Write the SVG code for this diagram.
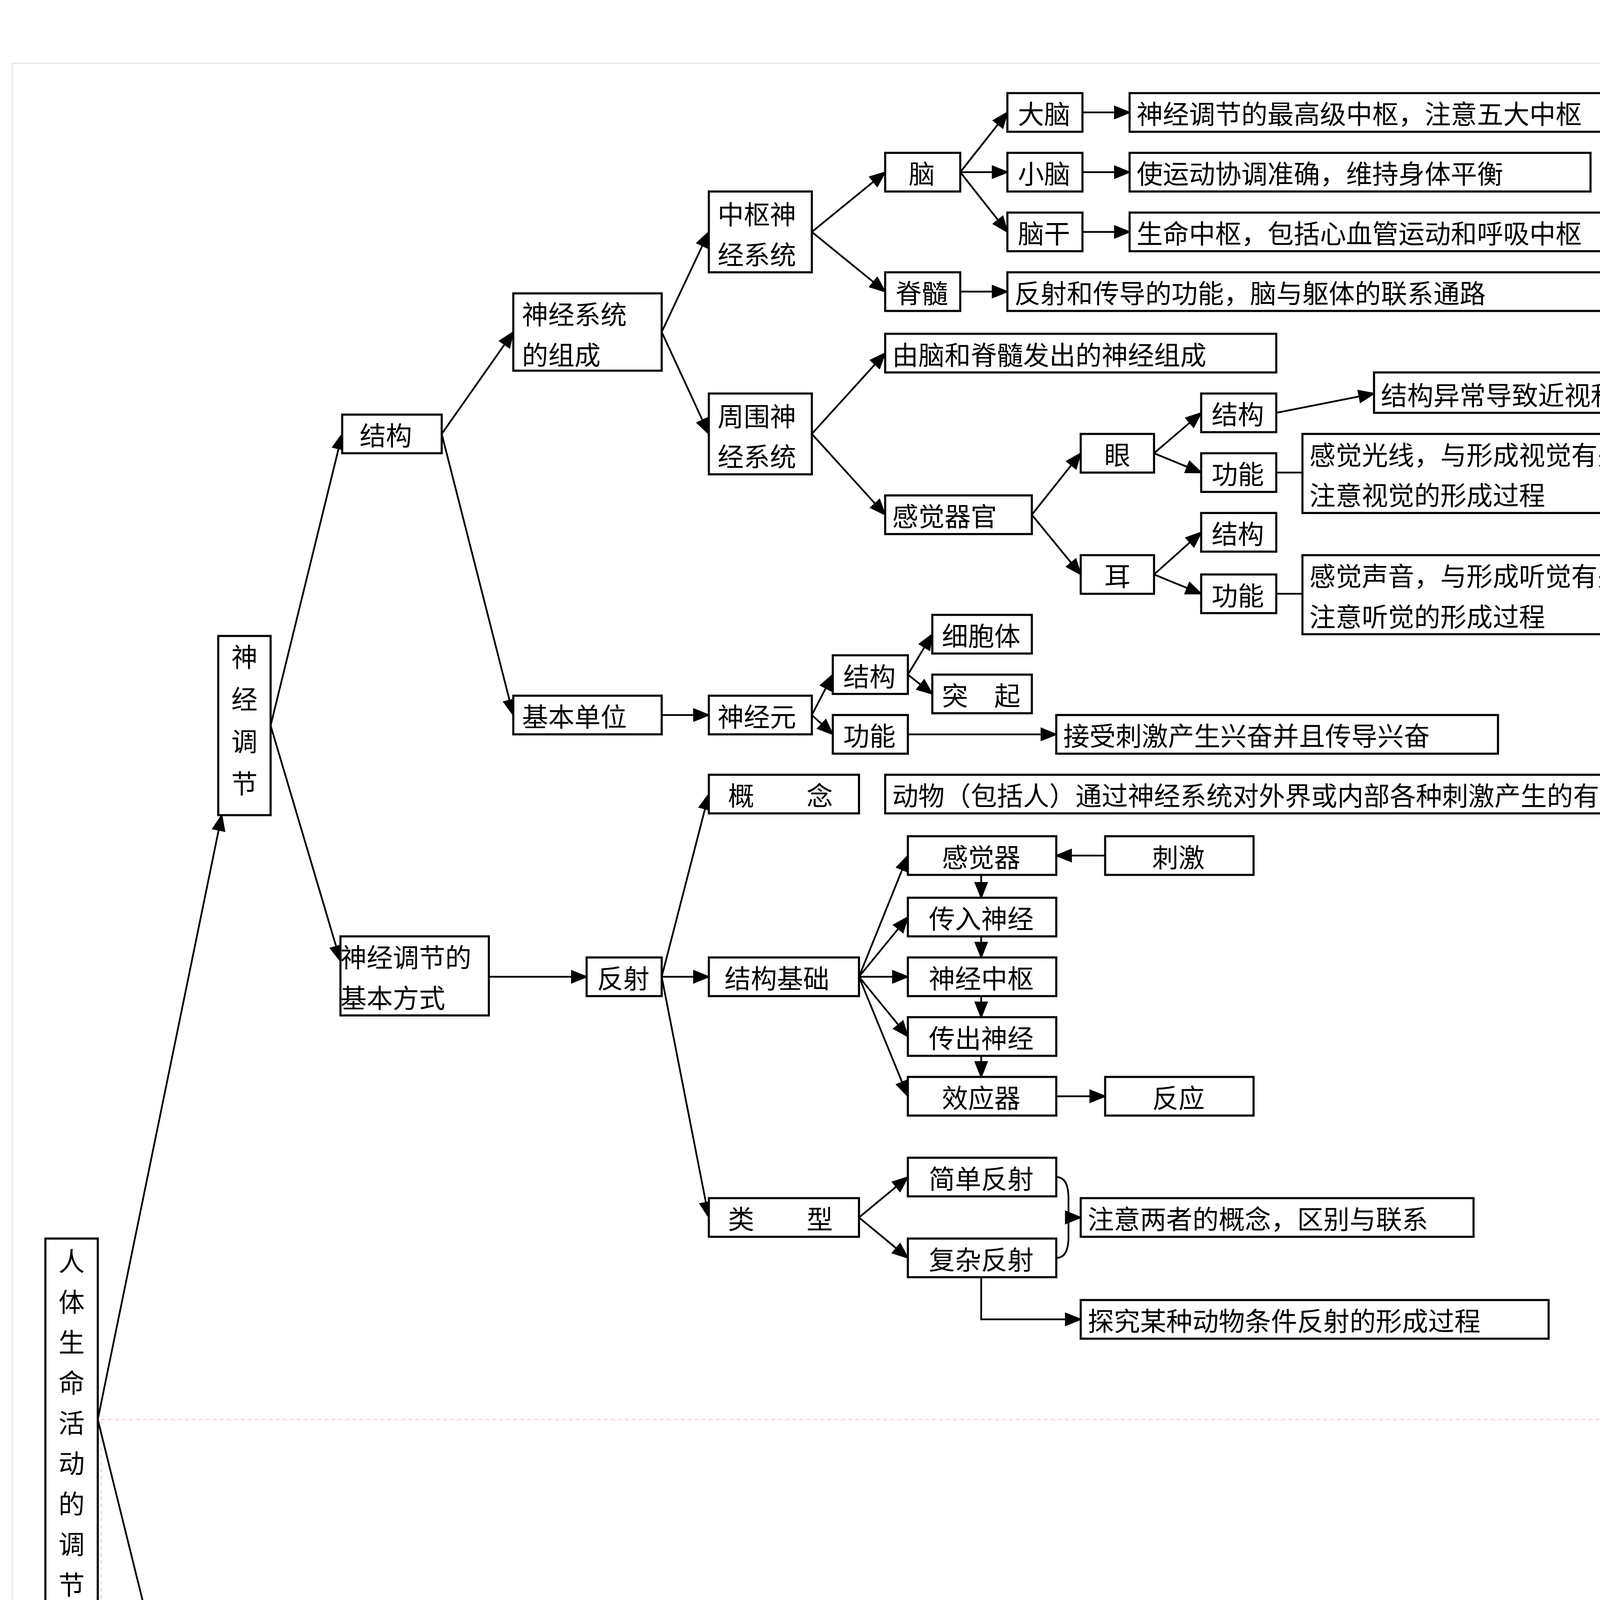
<svg xmlns="http://www.w3.org/2000/svg" width="4961" height="7016" viewBox="0 0 4961 7016">
<style>
.b{fill:#fff;stroke:#000;stroke-width:1.2}
.t{font-family:"Noto Sans CJK SC","Noto Sans",sans-serif;font-size:15px;fill:#000;dominant-baseline:central}
.c{stroke:#000;stroke-width:1;fill:none}
.m{text-anchor:middle}
</style>
<defs>
<marker id="a" markerUnits="userSpaceOnUse" markerWidth="10" markerHeight="8" refX="9" refY="4" orient="auto"><path d="M0,0 L10,4 L0,8 z" fill="#000"/></marker>
</defs>
<rect width="4961" height="7016" fill="#fff"/>
<g transform="scale(4.4695,4.4974)">
<rect x="7" y="36" width="1095" height="904" fill="none" stroke="#ddd" stroke-width="0.5"/>
<rect x="58" y="808" width="1044" height="665" fill="none" stroke="#f4c4c4" stroke-width="0.5" stroke-dasharray="2,2"/>
<g id="connectors" class="c" marker-end="url(#a)">
<path d="M56,808 L127,464"/><path d="M56,808 L140,1145"/>
<path d="M155,413 L196,247"/><path d="M155,413 L195,547"/>
<path d="M171,1145 L214,1066"/><path d="M171,1145 L215,1396"/>
<path d="M287,1066 L333,955"/><path d="M287,1066 L333,1017"/><path d="M287,1066 L333,1196"/>
<path d="M464,1212 L509,1140"/><path d="M464,1212 L509,1212"/><path d="M464,1212 L509,1316"/>
<path d="M347,1396 L422,1396"/>
<path d="M253,247 L294,189"/><path d="M253,247 L294,407"/>
<path d="M379,189 L406,132"/><path d="M379,189 L406,247"/>
<path d="M465,132 L507,98"/><path d="M465,132 L507,166"/>
<path d="M550,98 L577,64"/><path d="M550,98 L577,98"/><path d="M550,98 L577,132"/>
<path d="M620,64 L647,64"/><path d="M620,98 L647,98"/><path d="M620,132 L647,132"/>
<path d="M550,166 L577,166"/>
<path d="M465,247 L507,201"/><path d="M465,247 L507,293"/>
<path d="M591,293 L619,258"/><path d="M591,293 L619,327"/>
<path d="M661,258 L688,235"/><path d="M661,258 L688,269"/>
<path d="M661,327 L688,303"/><path d="M661,327 L688,338"/>
<path d="M731,235 L787,224"/>
<path d="M379,407 L406,407"/>
<path d="M465,407 L477,384"/><path d="M465,407 L477,418"/>
<path d="M520,384 L534,361"/><path d="M520,384 L534,395"/>
<path d="M520,418 L605,418"/>
<path d="M280,556 L336,556"/>
<path d="M379,556 L406,452"/><path d="M379,556 L406,556"/><path d="M379,556 L406,693"/>
<path d="M492,556 L520,487"/><path d="M492,556 L520,522"/><path d="M492,556 L520,556"/><path d="M492,556 L520,590"/><path d="M492,556 L520,624"/>
<path d="M562,498 L562,511"/><path d="M562,533 L562,545"/><path d="M562,567 L562,579"/><path d="M562,601 L562,613"/>
<path d="M633,487 L605,487"/><path d="M605,624 L633,624"/>
<path d="M492,693 L520,670"/><path d="M492,693 L520,716"/>
<path d="M612,693 L619,693"/>
<path d="M562,727 L562,751 L619,751"/>
</g>
<g class="c">
<path d="M731,269 L746,269"/><path d="M731,338 L746,338"/>
<path d="M605,670 Q612,670 612,682 L612,704 Q612,716 605,716"/>
<path d="M929,64 Q942,64 942,80 L942,150 Q942,166 929,166"/>
<path d="M942,115 L957,115"/>
</g>
<g id="root"><rect class="b" x="26" y="705" width="30" height="230"/>
<text class="t m" x="41" y="717">人</text><text class="t m" x="41" y="740">体</text><text class="t m" x="41" y="763">生</text><text class="t m" x="41" y="786">命</text><text class="t m" x="41" y="809">活</text><text class="t m" x="41" y="832">动</text><text class="t m" x="41" y="855">的</text><text class="t m" x="41" y="878">调</text><text class="t m" x="41" y="901">节</text></g>
<g id="sjtj"><rect class="b" x="125" y="362" width="30" height="102"/>
<text class="t m" x="140" y="373">神</text><text class="t m" x="140" y="397">经</text><text class="t m" x="140" y="421">调</text><text class="t m" x="140" y="445">节</text></g>
<g id="tytj"><rect class="b" x="141" y="1090" width="30" height="108"/>
<text class="t m" x="156" y="1103">体</text><text class="t m" x="156" y="1128">液</text><text class="t m" x="156" y="1153">调</text><text class="t m" x="156" y="1178">节</text></g>
<g id="jg"><rect class="b" x="196" y="236" width="57" height="22"/><text class="t" x="206" y="247">结构</text></g>
<g id="fs"><rect class="b" x="195" y="533" width="85" height="45"/><text class="t" x="195" y="544">神经调节的</text><text class="t" x="195" y="567">基本方式</text></g>
<g id="zc"><rect class="b" x="294" y="167" width="85" height="44"/><text class="t" x="299" y="178">神经系统</text><text class="t" x="299" y="201">的组成</text></g>
<g id="jbdw"><rect class="b" x="294" y="396" width="85" height="22"/><text class="t" x="299" y="407">基本单位</text></g>
<g id="zs"><rect class="b" x="406" y="109" width="59" height="46"/><text class="t" x="411" y="121">中枢神</text><text class="t" x="411" y="144">经系统</text></g>
<g id="zw"><rect class="b" x="406" y="224" width="59" height="46"/><text class="t" x="411" y="236">周围神</text><text class="t" x="411" y="259">经系统</text></g>
<g id="nao"><rect class="b" x="507" y="87" width="43" height="22"/><text class="t m" x="528" y="98">脑</text></g>
<g id="js"><rect class="b" x="507" y="155" width="43" height="22"/><text class="t m" x="528" y="166">脊髓</text></g>
<g id="ynh"><rect class="b" x="507" y="190" width="224" height="22"/><text class="t" x="511" y="201">由脑和脊髓发出的神经组成</text></g>
<g id="gjqg"><rect class="b" x="507" y="282" width="84" height="22"/><text class="t" x="511" y="293">感觉器官</text></g>
<g id="dn"><rect class="b" x="577" y="53" width="43" height="22"/><text class="t m" x="598" y="64">大脑</text></g>
<g id="xn"><rect class="b" x="577" y="87" width="43" height="22"/><text class="t m" x="598" y="98">小脑</text></g>
<g id="ng"><rect class="b" x="577" y="121" width="43" height="22"/><text class="t m" x="598" y="132">脑干</text></g>
<g id="d1"><rect class="b" x="647" y="53" width="282" height="22"/><text class="t" x="651" y="64">神经调节的最高级中枢，注意五大中枢</text></g>
<g id="d2"><rect class="b" x="647" y="87" width="264" height="22"/><text class="t" x="651" y="98">使运动协调准确，维持身体平衡</text></g>
<g id="d3"><rect class="b" x="647" y="121" width="282" height="22"/><text class="t" x="651" y="132">生命中枢，包括心血管运动和呼吸中枢</text></g>
<g id="d4"><rect class="b" x="577" y="155" width="352" height="22"/><text class="t" x="581" y="166">反射和传导的功能，脑与躯体的联系通路</text></g>
<g id="bz"><rect class="b" x="957" y="87" width="100" height="56"/><text class="t" x="962" y="99">均由白质和</text><text class="t" x="962" y="122">灰质组成</text></g>
<g id="yan"><rect class="b" x="619" y="247" width="42" height="22"/><text class="t m" x="640" y="258">眼</text></g>
<g id="er"><rect class="b" x="619" y="316" width="42" height="22"/><text class="t m" x="640" y="327">耳</text></g>
<g id="yjg"><rect class="b" x="688" y="224" width="43" height="22"/><text class="t m" x="709" y="235">结构</text></g>
<g id="ygn"><rect class="b" x="688" y="258" width="43" height="22"/><text class="t m" x="709" y="269">功能</text></g>
<g id="ejg"><rect class="b" x="688" y="292" width="43" height="22"/><text class="t m" x="709" y="303">结构</text></g>
<g id="egn"><rect class="b" x="688" y="327" width="43" height="22"/><text class="t m" x="709" y="338">功能</text></g>
<g id="jz"><rect class="b" x="787" y="212" width="296" height="23"/><text class="t" x="791" y="224">结构异常导致近视和远视的原理及矫正</text></g>
<g id="sj"><rect class="b" x="746" y="247" width="211" height="45"/><text class="t" x="750" y="258">感觉光线，与形成视觉有关，</text><text class="t" x="750" y="281">注意视觉的形成过程</text></g>
<g id="tj"><rect class="b" x="746" y="316" width="211" height="45"/><text class="t" x="750" y="327">感觉声音，与形成听觉有关，</text><text class="t" x="750" y="350">注意听觉的形成过程</text></g>
<g id="sjy"><rect class="b" x="406" y="396" width="59" height="22"/><text class="t" x="411" y="407">神经元</text></g>
<g id="njg"><rect class="b" x="477" y="373" width="43" height="22"/><text class="t m" x="498" y="384">结构</text></g>
<g id="ngn"><rect class="b" x="477" y="407" width="43" height="22"/><text class="t m" x="498" y="418">功能</text></g>
<g id="xbt"><rect class="b" x="534" y="350" width="57" height="22"/><text class="t m" x="562" y="361">细胞体</text></g>
<g id="tq"><rect class="b" x="534" y="384" width="57" height="22"/><text class="t m" x="562" y="395">突　起</text></g>
<g id="js2"><rect class="b" x="605" y="407" width="253" height="22"/><text class="t" x="609" y="418">接受刺激产生兴奋并且传导兴奋</text></g>
<g id="gn"><rect class="b" x="406" y="441" width="86" height="22"/><text class="t" x="417" y="452">概　　念</text></g>
<g id="gnd"><rect class="b" x="507" y="441" width="550" height="22"/><text class="t" x="511" y="452">动物（包括人）通过神经系统对外界或内部各种刺激产生的有规律的反应。</text></g>
<g id="fsh"><rect class="b" x="336" y="545" width="43" height="22"/><text class="t m" x="357" y="556">反射</text></g>
<g id="jgjc"><rect class="b" x="406" y="545" width="86" height="22"/><text class="t" x="415" y="556">结构基础</text></g>
<g id="gjq"><rect class="b" x="520" y="476" width="85" height="22"/><text class="t m" x="562" y="487">感觉器</text></g>
<g id="cj"><rect class="b" x="633" y="476" width="85" height="22"/><text class="t m" x="675" y="487">刺激</text></g>
<g id="crsj"><rect class="b" x="520" y="511" width="85" height="22"/><text class="t m" x="562" y="522">传入神经</text></g>
<g id="sjzs"><rect class="b" x="520" y="545" width="85" height="22"/><text class="t m" x="562" y="556">神经中枢</text></g>
<g id="ccsj"><rect class="b" x="520" y="579" width="85" height="22"/><text class="t m" x="562" y="590">传出神经</text></g>
<g id="xyq"><rect class="b" x="520" y="613" width="85" height="22"/><text class="t m" x="562" y="624">效应器</text></g>
<g id="fy"><rect class="b" x="633" y="613" width="85" height="22"/><text class="t m" x="675" y="624">反应</text></g>
<g id="lx"><rect class="b" x="406" y="682" width="86" height="22"/><text class="t" x="417" y="693">类　　型</text></g>
<g id="jdfs"><rect class="b" x="520" y="659" width="85" height="22"/><text class="t m" x="562" y="670">简单反射</text></g>
<g id="fzfs"><rect class="b" x="520" y="705" width="85" height="22"/><text class="t m" x="562" y="716">复杂反射</text></g>
<g id="zy"><rect class="b" x="619" y="682" width="225" height="22"/><text class="t" x="623" y="693">注意两者的概念，区别与联系</text></g>
<g id="tj2"><rect class="b" x="619" y="740" width="268" height="22"/><text class="t" x="623" y="751">探究某种动物条件反射的形成过程</text></g>
<g id="jstj"><rect class="b" x="214" y="1054" width="73" height="23"/><text class="t" x="216" y="1066">激素调节</text></g>
<g id="nwfm"><rect class="b" x="333" y="944" width="159" height="22"/><text class="t m" x="412" y="955">内外分泌腺的区别</text></g>
<g id="jsgn"><rect class="b" x="333" y="992" width="162" height="25"/><text class="t m" x="414" y="1004">激素的概念</text></g>
<g id="sdjs"><rect class="b" x="333" y="1201" width="131" height="23"/><text class="t m" x="398" y="1212">三大激素</text></g>
<g id="qt"><rect class="b" x="215" y="1385" width="132" height="23"/><text class="t m" x="281" y="1396">其它体液调节</text></g>
<g id="fmw"><rect class="b" x="524" y="944" width="206" height="22"/><text class="t m" x="627" y="955">分泌物是否进入血液</text></g>
<g id="gnd2"><rect class="b" x="524" y="980" width="368" height="48"/><text class="t" x="528" y="992">由人体的内分泌腺的腺细胞所分泌的，对人体有</text><text class="t" x="528" y="1016">特殊作用的化学物质，含量虽少，但作用巨大。</text></g>
<g id="lr"><rect class="b" x="422" y="1385" width="294" height="23"/><text class="t m" x="569" y="1396">例如血液中 CO2 浓度对呼吸调节</text></g>
<g id="table">
<g stroke="#000" stroke-width="1.5"><path d="M510,1040 H1070 M510,1106 H1070 M510,1180 H1070 M510,1278 H1070 M510,1352 H1070 M585,1040 V1352 M658,1040 V1352 M850,1040 V1352"/></g>
<text class="t m" x="540" y="1062">激素</text><text class="t m" x="540" y="1086">名称</text>
<text class="t m" x="620" y="1062">分泌的</text><text class="t m" x="620" y="1086">腺体</text>
<text class="t m" x="752" y="1074">作用</text><text class="t" x="857" y="1074">分泌异常引起的疾病</text>
<text class="t m" x="540" y="1132">生长</text><text class="t m" x="540" y="1157">激素</text><text class="t m" x="620" y="1144">垂体</text>
<text class="t" x="665" y="1145">促进<tspan font-size="20" font-weight="bold" font-style="italic">生长</tspan>发育</text>
<text class="t" x="857" y="1120">幼年分泌过少，侏儒症</text><text class="t" x="857" y="1144">幼年分泌过多，巨人症</text><text class="t" x="857" y="1168">成年分泌过多，肢端肥大症</text>
<text class="t m" x="540" y="1218">甲状腺</text><text class="t m" x="540" y="1243">激素</text><text class="t m" x="620" y="1231">甲状腺</text>
<text class="t" x="665" y="1207">促进生长<tspan font-size="20" font-weight="bold" font-style="italic">发育</tspan></text>
<text class="t" x="665" y="1243">促进新陈代谢</text><text class="t" x="665" y="1267">提高神经系统的兴奋性</text>
<text class="t" x="857" y="1207">幼年分泌过少，呆小症</text><text class="t" x="857" y="1231">分沁过多，甲亢</text><text class="t" x="857" y="1255">缺碘，地方性甲状腺肿</text>
<text class="t m" x="540" y="1317">胰岛素</text><text class="t m" x="620" y="1317">胰岛</text>
<text class="t" x="665" y="1292">促进血糖合成糖元，促</text><text class="t" x="665" y="1317">进血糖分解，调节血糖</text><text class="t" x="665" y="1341">浓度</text>
<text class="t" x="857" y="1305">糖尿病（注射胰岛素治疗，</text><text class="t" x="857" y="1329">不能口服）</text>
</g>
</g>
</svg>
